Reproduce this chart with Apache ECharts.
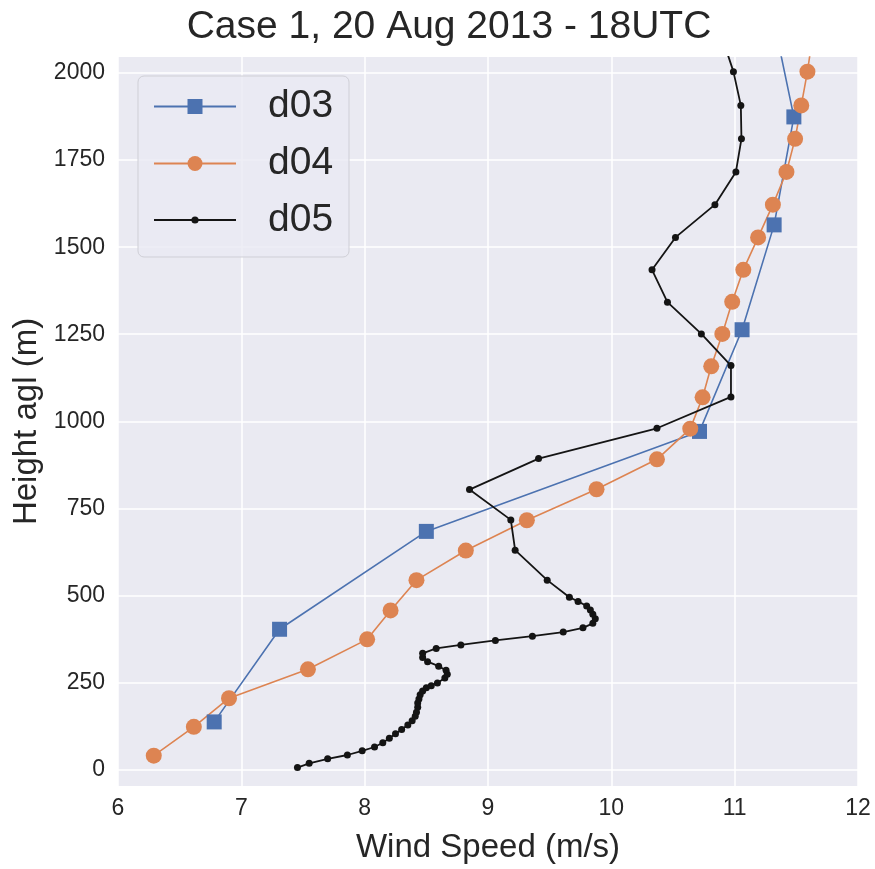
<!DOCTYPE html>
<html>
<head>
<meta charset="utf-8">
<script src="https://cdn.jsdelivr.net/npm/echarts@6/dist/echarts.min.js"></script>
<style>
  html, body { margin: 0; padding: 0; background: #ffffff; }
  #chart { width: 875px; height: 869px; }
</style>
</head>
<body>
<div id="chart"></div>
<script>
// wind speed (m/s) and height agl (m)
var d03Speed = [6.78, 7.31, 8.50, 10.715, 11.06, 11.32, 11.48, 11.30];
var d03Height = [137, 403, 684, 971, 1263, 1564, 1874, 2180];

var d04Speed = [6.29, 6.615, 6.90, 7.54, 8.02, 8.21, 8.42, 8.82, 9.315, 9.88, 10.37, 10.64,
  10.74, 10.81, 10.90, 10.98, 11.07, 11.19, 11.31, 11.42, 11.49, 11.54, 11.59, 11.63];
var d04Height = [40, 123, 205, 288, 374, 457, 544, 629, 716, 805, 891, 979,
  1069, 1158, 1251, 1343, 1435, 1528, 1622, 1716, 1811, 1907, 2004, 2101];

var d05Speed = [7.455, 7.55, 7.70, 7.86, 7.98, 8.08, 8.147, 8.20, 8.25, 8.30, 8.35, 8.385,
  8.41, 8.42, 8.43, 8.43, 8.44, 8.45, 8.47, 8.50, 8.54, 8.59, 8.65, 8.67, 8.66, 8.60,
  8.51, 8.47, 8.47, 8.58, 8.78, 9.06, 9.36, 9.61, 9.77, 9.85, 9.87, 9.85, 9.83, 9.80,
  9.73, 9.66, 9.48, 9.22, 9.185, 8.85, 9.41, 10.37, 10.97, 10.97, 10.73, 10.455, 10.33,
  10.52, 10.84, 11.01, 11.055, 11.05, 10.99, 10.90];
var d05Height = [6, 18, 31, 42, 54, 65, 77, 90, 103, 115, 128, 140,
  153, 165, 179, 191, 203, 215, 226, 235, 241, 249, 263, 274, 285, 297,
  310, 322, 334, 348, 358, 371, 383, 395, 407, 420, 433, 446, 458, 470,
  483, 495, 544, 630, 717, 804, 893, 980, 1070, 1160, 1251, 1342, 1435,
  1528, 1622, 1716, 1811, 1907, 2004, 2100];

var heightTicks = [0, 250, 500, 750, 1000, 1250, 1500, 1750, 2000];

function pairs(xs, ys) {
  return xs.map(function (x, i) { return [x, ys[i]]; });
}

var font = "Liberation Sans, Arial, sans-serif";
var textColor = "#262626";

var chart = echarts.init(document.getElementById("chart"));

function legendFor(name, top, itemHeight) {
  return {
    data: [name],
    left: 153,
    top: top,
    z: 5,
    padding: 0,
    itemWidth: 82,
    itemHeight: itemHeight,
    selectedMode: false,
    formatter: "{a|{name}}",
    textStyle: {
      color: textColor,
      fontFamily: font,
      fontSize: 39,
      rich: {
        a: { fontSize: 39, fontFamily: font, color: textColor, padding: [0, 0, 0, 27] }
      }
    }
  };
}

var option = {
  animation: false,
  backgroundColor: "#ffffff",
  title: {
    text: "Case 1, 20 Aug 2013 - 18UTC",
    left: 444,
    textAlign: "center",
    top: 3,
    textStyle: {
      color: textColor,
      fontFamily: font,
      fontSize: 39,
      fontWeight: "normal"
    }
  },
  graphic: [
    {
      type: "rect",
      z: 3,
      shape: { x: 138, y: 76, width: 211, height: 181, r: 6 },
      style: { fill: "rgba(234,234,242,0.8)", stroke: "#cfcfd6", lineWidth: 1 }
    }
  ],
  legend: [
    legendFor("d03", 87, 18.75),
    legendFor("d04", 144, 18.75),
    legendFor("d05", 200.5, 9)
  ],
  grid: {
    left: 118,
    right: 17,
    top: 57,
    bottom: 82,
    show: true,
    backgroundColor: "#eaeaf2",
    borderWidth: 0
  },
  xAxis: {
    type: "value",
    min: 6,
    max: 12,
    interval: 1,
    name: "Wind Speed (m/s)",
    nameLocation: "middle",
    nameGap: 45,
    nameTextStyle: { color: textColor, fontFamily: font, fontSize: 33 },
    axisLine: { show: false },
    axisTick: { show: false },
    axisLabel: { color: textColor, fontFamily: font, fontSize: 23, margin: 11 },
    splitLine: { show: true, lineStyle: { color: "#ffffff", width: 1.5 } }
  },
  yAxis: {
    type: "value",
    min: -47,
    max: 2046,
    name: "Height agl (m)",
    nameLocation: "middle",
    nameGap: 62,
    nameTextStyle: { color: textColor, fontFamily: font, fontSize: 33 },
    axisLine: { show: false },
    axisTick: { show: false, customValues: heightTicks },
    axisLabel: {
      color: textColor,
      fontFamily: font,
      fontSize: 23,
      margin: 13,
      customValues: heightTicks,
      formatter: function (v) { return String(v); }
    },
    splitLine: { show: true, lineStyle: { color: "#ffffff", width: 1.5 } }
  },
  series: [
    {
      name: "d03",
      type: "line",
      data: pairs(d03Speed, d03Height),
      symbol: "rect",
      symbolSize: 15,
      color: "#4c72b0",
      lineStyle: { width: 1.6, color: "#4c72b0" },
      itemStyle: { color: "#4c72b0", borderWidth: 0 },
      clip: true
    },
    {
      name: "d04",
      type: "line",
      data: pairs(d04Speed, d04Height),
      symbol: "circle",
      symbolSize: 16,
      color: "#dd8452",
      lineStyle: { width: 1.6, color: "#dd8452" },
      itemStyle: { color: "#dd8452", borderWidth: 0 },
      clip: true
    },
    {
      name: "d05",
      type: "line",
      data: pairs(d05Speed, d05Height),
      symbol: "circle",
      symbolSize: 7,
      color: "#141414",
      lineStyle: { width: 1.8, color: "#141414" },
      itemStyle: { color: "#141414", borderWidth: 0 },
      clip: true
    }
  ]
};

chart.setOption(option);
</script>
</body>
</html>
